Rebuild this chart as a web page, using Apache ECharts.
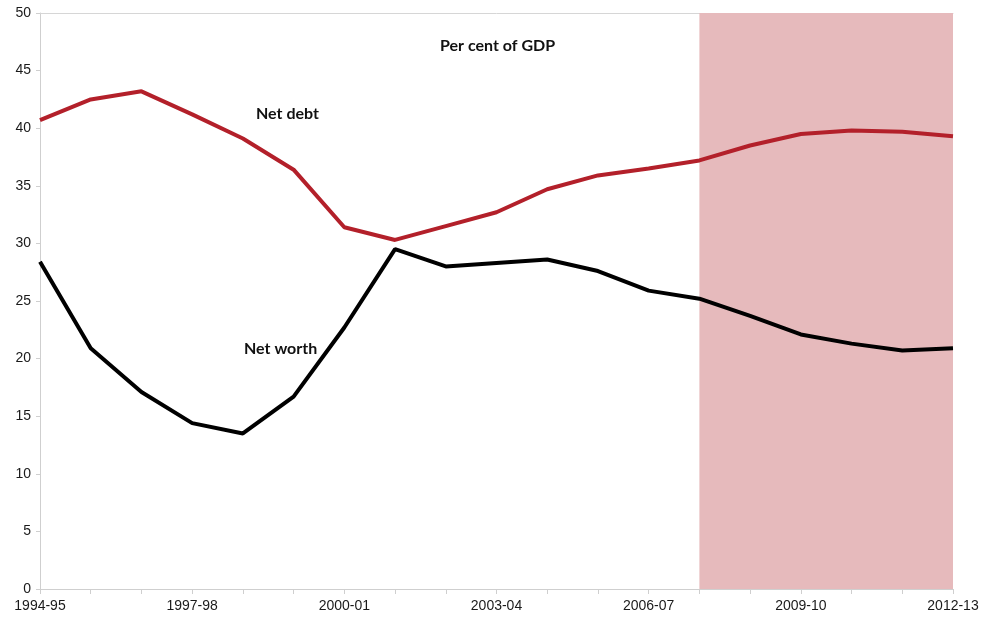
<!DOCTYPE html>
<html>
<head>
<meta charset="utf-8">
<script src="https://cdn.jsdelivr.net/npm/echarts@6/dist/echarts.min.js"></script>
<style>
  html, body { margin: 0; padding: 0; background: #fff; }
  #chart { width: 989px; height: 623px; }
</style>
</head>
<body>
<div id="chart"></div>
<script>
// Financial years on the category axis
const years = [
  '1994-95', '1995-96', '1996-97', '1997-98', '1998-99', '1999-00', '2000-01',
  '2001-02', '2002-03', '2003-04', '2004-05', '2005-06', '2006-07', '2007-08',
  '2008-09', '2009-10', '2010-11', '2011-12', '2012-13'
];

// Per cent of GDP
const netDebt = [
  40.7, 42.5, 43.2, 41.2, 39.1, 36.4, 31.4, 30.3, 31.5, 32.7,
  34.7, 35.9, 36.5, 37.2, 38.5, 39.5, 39.8, 39.7, 39.3
];
const netWorth = [
  28.4, 20.9, 17.1, 14.4, 13.5, 16.7, 22.7, 29.5, 28.0, 28.3,
  28.6, 27.6, 25.9, 25.2, 23.7, 22.1, 21.3, 20.7, 20.9
];

// Projection period shading
const projectionStart = '2007-08';
const projectionEnd = '2012-13';

const chart = echarts.init(document.getElementById('chart'));
const labelFont = 'Lato, "Open Sans", sans-serif';
const tickFont = '"Liberation Sans", Arial, sans-serif';

chart.setOption({
  animation: false,
  grid: { left: 40, right: 36, top: 13, bottom: 34 },
  xAxis: [
    {
      type: 'category',
      data: years,
      boundaryGap: false,
      axisLine: { lineStyle: { color: '#cfcfcf', width: 1 } },
      axisTick: { show: true, interval: 0, length: 5, lineStyle: { color: '#cfcfcf' } },
      axisLabel: {
        interval: 2,
        color: '#1a1a1a',
        fontFamily: tickFont,
        fontSize: 14,
        margin: 10
      },
      splitLine: { show: false }
    },
    {
      type: 'category',
      data: years,
      boundaryGap: false,
      position: 'top',
      axisLine: { lineStyle: { color: '#d6d6d6', width: 1 } },
      axisTick: { show: false },
      axisLabel: { show: false }
    }
  ],
  yAxis: {
    type: 'value',
    min: 0,
    max: 50,
    interval: 5,
    axisLine: { show: true, lineStyle: { color: '#cfcfcf', width: 1 } },
    axisTick: { show: true, length: 4, lineStyle: { color: '#cfcfcf' } },
    axisLabel: {
      color: '#1a1a1a',
      fontFamily: tickFont,
      fontSize: 14,
      margin: 9
    },
    splitLine: { show: false }
  },
  series: [
    {
      name: 'Net debt',
      type: 'line',
      data: netDebt,
      symbol: 'none',
      lineStyle: { color: '#b3202a', width: 4 },
      z: 3,
      markArea: {
        silent: true,
        itemStyle: { color: '#e6babc' },
        data: [[{ xAxis: projectionStart }, { xAxis: projectionEnd }]]
      }
    },
    {
      name: 'Net worth',
      type: 'line',
      data: netWorth,
      symbol: 'none',
      lineStyle: { color: '#000000', width: 4 },
      z: 3
    }
  ],
  graphic: [
    {
      type: 'text', left: 440, top: 38,
      style: { text: 'Per cent of GDP', font: 'bold 16px ' + labelFont, fill: '#111' }
    },
    {
      type: 'text', left: 784, top: 35,
      style: { text: 'Projections', font: 'bold 16px ' + labelFont, fill: '#111' }
    },
    {
      type: 'text', left: 256, top: 106,
      style: { text: 'Net debt', font: 'bold 16px ' + labelFont, fill: '#111' }
    },
    {
      type: 'text', left: 244, top: 341,
      style: { text: 'Net worth', font: 'bold 16px ' + labelFont, fill: '#111' }
    }
  ]
});
</script>
</body>
</html>
